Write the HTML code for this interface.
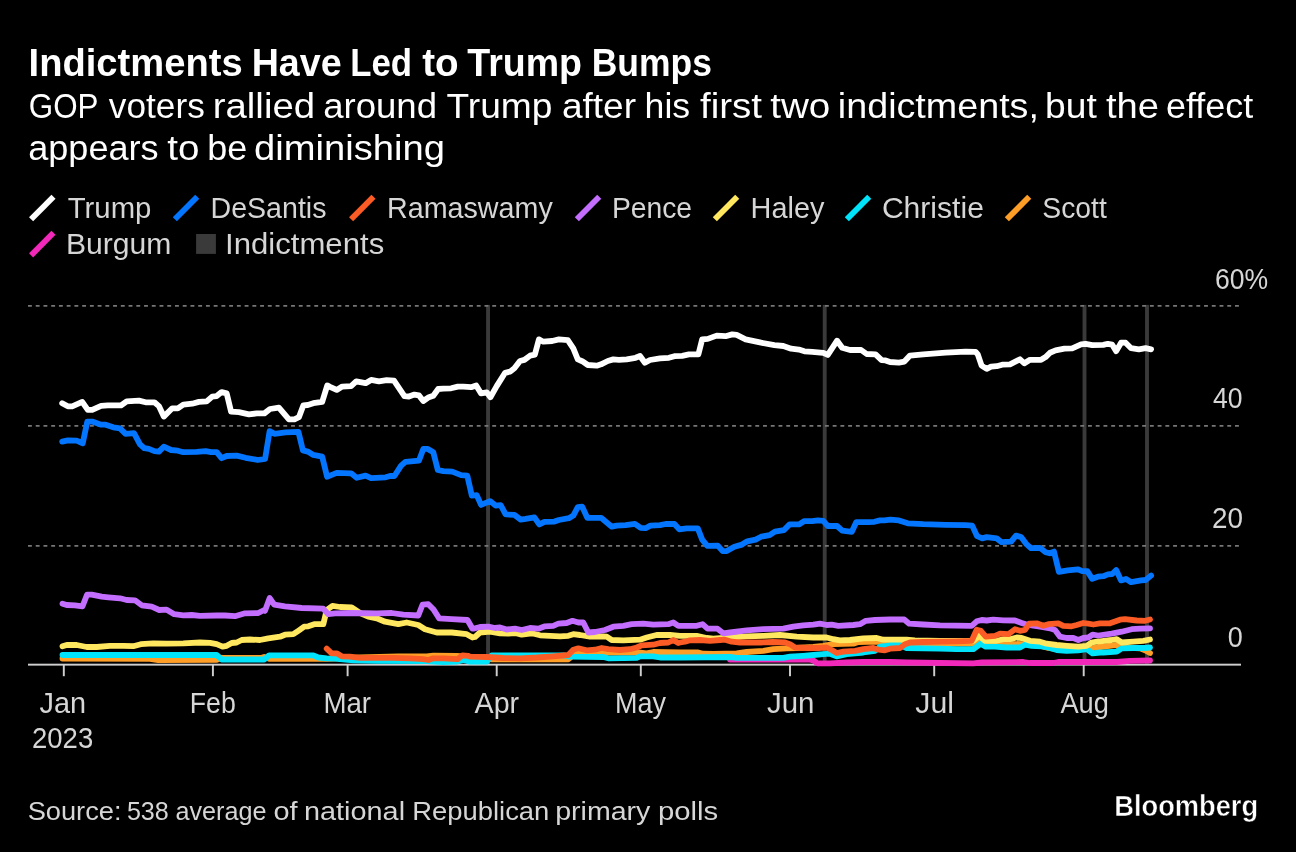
<!DOCTYPE html>
<html lang="en"><head><meta charset="utf-8"><title>Indictments Have Led to Trump Bumps</title>
<style>html,body{margin:0;padding:0;background:#000;}body{width:1296px;height:852px;overflow:hidden;}svg{display:block;will-change:transform;}text{font-family:"Liberation Sans",sans-serif;}</style></head><body>
<svg width="1296" height="852" viewBox="0 0 1296 852">
<rect width="1296" height="852" fill="#000"/>
<rect x="486.12" y="304.9" width="3.87" height="360" fill="#3a3a3a"/>
<rect x="822.77" y="304.9" width="3.87" height="360" fill="#3a3a3a"/>
<rect x="1082.57" y="304.9" width="3.87" height="360" fill="#3a3a3a"/>
<rect x="1145.07" y="304.9" width="3.87" height="360" fill="#3a3a3a"/>
<line x1="28" x2="1240" y1="305.9" y2="305.9" stroke="#767676" stroke-width="1.93" stroke-dasharray="3.8687 3.8686"/>
<line x1="28" x2="1240" y1="425.9" y2="425.9" stroke="#767676" stroke-width="1.93" stroke-dasharray="3.8687 3.8686"/>
<line x1="28" x2="1240" y1="545.9" y2="545.9" stroke="#767676" stroke-width="1.93" stroke-dasharray="3.8687 3.8686"/>
<rect x="28" y="663.7" width="1213" height="1.93" fill="#cfcfcf"/>
<rect x="62.84" y="664" width="1.93" height="12.2" fill="#cfcfcf"/>
<rect x="211.94" y="664" width="1.93" height="12.2" fill="#cfcfcf"/>
<rect x="346.64" y="664" width="1.93" height="12.2" fill="#cfcfcf"/>
<rect x="495.74" y="664" width="1.93" height="12.2" fill="#cfcfcf"/>
<rect x="639.84" y="664" width="1.93" height="12.2" fill="#cfcfcf"/>
<rect x="789.04" y="664" width="1.93" height="12.2" fill="#cfcfcf"/>
<rect x="933.24" y="664" width="1.93" height="12.2" fill="#cfcfcf"/>
<rect x="1082.74" y="664" width="1.93" height="12.2" fill="#cfcfcf"/>
<path d="M730,659.5 L763.3,659.7 L810,659.7 L813.3,660.5 L817.5,663.3 L830,663.3 L846.7,662.5 L863.3,662 L890,662 L906.7,662.5 L973.3,663.3 L981.7,662.5 L1023.3,662 L1030,663 L1053.3,663 L1058.3,662 L1098.3,662 L1100,662 L1116.7,662 L1130,660.8 L1150,660.5" fill="none" stroke="#f128b9" stroke-width="5.8" stroke-linejoin="round" stroke-linecap="round"/>
<path d="M62.5,658.5 L150,658.8 L158.3,660.2 L216.7,659.8 L221.7,657.8 L261.7,657.8 L264.2,657 L269.2,658.8 L315,658.8 L326.7,658.8 L340,658.3 L360,657.5 L398.3,656.5 L426.7,656.3 L433.3,655.7 L456.7,656 L470,657 L486.7,658.3 L491.7,659.3 L568.3,659.3 L576.7,652.5 L636.7,652.5 L638.3,652.5 L646.7,653.3 L653.3,652 L680,652.5 L698.3,652.5 L703.3,653.7 L713.3,654 L736.7,653.3 L746.7,652 L763.3,650.8 L773.3,649.2 L786.7,648.3 L796.7,648 L813.3,647 L823.3,645.8 L833.3,644.2 L853.3,643.7 L858.3,642 L876.7,641.7 L890,642.5 L906.7,643.3 L973.3,643.7 L980.8,640 L985.8,643.3 L1023.3,644.2 L1040,645.8 L1048.3,648 L1056.7,649.2 L1078.3,649.2 L1091.7,648.3 L1098.3,647 L1100,647 L1113.3,645.3 L1116.7,645 L1120,647.3 L1140,648.3 L1145,650.3 L1150,653" fill="none" stroke="#ff9e26" stroke-width="5.8" stroke-linejoin="round" stroke-linecap="round"/>
<path d="M62.5,655 L216.7,655 L221.7,659.5 L261.7,659.5 L264.2,659.5 L269.2,655.3 L313.3,655.3 L318.3,657.5 L326.7,658.3 L335,658.7 L340,659.2 L353.3,660.3 L376.7,660.8 L426.7,661.2 L435,661.7 L443.3,662 L456.7,661.7 L463.3,660 L470,661.7 L486.7,661.7 L491.7,655.3 L563.3,655.3 L570,656.7 L603.3,657 L608.3,658.3 L636.7,657.8 L640,656.3 L653.3,656.3 L660,657.5 L680,657.5 L730,657 L736.7,657.8 L746.7,657.8 L783.3,657.8 L790,656.7 L803.3,655.8 L813.3,655 L823.3,654.2 L830,653.7 L836.7,656.3 L846.7,654.2 L863.3,652.5 L875,650.8 L880,646.7 L886.7,645.8 L890,645 L900,645 L906.7,648 L923.3,648.3 L940,648.7 L956.7,649.2 L973.3,649.2 L980.8,643.7 L985.8,646.7 L995,646.7 L1006.7,647.5 L1020,647.5 L1025,644.7 L1031.7,645.8 L1041.7,646.3 L1048.3,647.5 L1056.7,650 L1066.7,650.8 L1078.3,650.3 L1086.7,649.2 L1092.5,653.3 L1100,652.5 L1103.3,652.5 L1116.7,651.7 L1121.7,648.3 L1133.3,648 L1145,648 L1150,647.5" fill="none" stroke="#00e4fb" stroke-width="5.8" stroke-linejoin="round" stroke-linecap="round"/>
<path d="M62.5,646.3 L66.7,645 L76.7,645 L86.7,647 L96.7,647 L110,645.8 L123.3,645.8 L133.3,646.2 L140.8,644.2 L153.3,643.3 L166.7,643.7 L183.3,643.3 L200,642.5 L210,642.8 L216.7,644.2 L222.5,646.7 L226.7,645.8 L231.7,643 L236.7,642.5 L241.7,640 L250,639.5 L260,640 L268.3,638.3 L280,636.7 L285,634.7 L293.3,634.2 L298.3,630.8 L304.2,626.7 L308.3,626.3 L314.2,624.2 L323.3,624.2 L326.7,610 L332.5,605.8 L340,607 L351.7,607.5 L360,613 L368.3,616.7 L376.7,618.3 L385,621.7 L398.3,624.2 L406.7,622.5 L418.3,625 L425,629.2 L436.7,632.5 L451.7,632.5 L466.7,634.2 L472.5,637.5 L475,637 L480,632.5 L490,631.7 L500,633.3 L508.3,633.7 L515,633 L521.7,634.7 L531.7,633.3 L540,635.3 L550,635.8 L560,636.3 L568.3,635.8 L573.3,634.2 L580,635 L590,636.7 L603.3,636.3 L606.7,636.7 L611.7,640 L623.3,640.3 L640,639.7 L646.7,637.5 L656.7,635 L670,635 L680,635.8 L696.7,635.8 L706.7,638 L713.3,638.7 L730,637.5 L746.7,636.3 L763.3,635.8 L780,635 L796.7,636.7 L813.3,637.5 L826.7,637.5 L833.3,639.2 L840,640.3 L850,640 L863.3,638.3 L876.7,638 L883.3,639.7 L890,639.7 L906.7,639.7 L915,640.3 L940,640.8 L973.3,640.8 L979.2,635.8 L985,640.8 L996.7,640.8 L1003.3,639.2 L1010,639.2 L1016.7,637.5 L1021.7,638 L1030,640.8 L1040,641.7 L1046.7,643.7 L1056.7,645 L1066.7,645.8 L1078.3,646.7 L1086.7,645.8 L1091.7,642.5 L1098.3,641.3 L1100,641.3 L1111.7,640 L1116.7,639.2 L1121.7,642.5 L1133.3,641.7 L1143.3,640.8 L1150,639.5" fill="none" stroke="#ffe75f" stroke-width="5.8" stroke-linejoin="round" stroke-linecap="round"/>
<path d="M62.5,603.7 L66.7,605 L75,605.3 L82.5,606.3 L87,594.7 L91.7,594.7 L101.7,596.7 L108.3,597.3 L120,598.3 L126.7,600 L135,600.3 L141.7,605.3 L151.7,606.7 L159.2,610 L166.7,609.7 L174.2,614.2 L183.3,615.3 L191.7,615 L200,615.8 L216.7,615.5 L225,615.5 L235,616.2 L245,613.3 L258.3,613 L264.2,610 L265,610.8 L269.7,598 L274.2,604.7 L285,606.3 L301.7,608 L323.3,608.7 L328.3,614.2 L335,613.3 L351.7,613 L376.7,613.3 L391.7,613 L403.3,614.7 L418.3,615.5 L422.5,604.7 L428.3,604.2 L433.3,609.2 L439.2,618.3 L451.7,619.2 L467.5,620 L472.5,628.7 L473.3,628.7 L480,627 L488.3,626.7 L495,628 L500,627.5 L506.7,629.5 L515,628.7 L521.7,630 L530,628 L538.3,628.7 L545,626.3 L553.3,625.8 L558.3,623.7 L566.7,623 L572.5,620.8 L578.3,622.5 L583.3,622.5 L588.3,632.5 L595,632 L605,630 L613.3,626.7 L623.3,625.8 L631.7,624.2 L643.3,623.7 L653.3,624.7 L668.3,624.2 L673.3,622.5 L678.3,625.8 L680,625.8 L696.7,625.8 L702.5,624.2 L707.5,628.7 L717.5,628.7 L723.3,633.3 L730,632.5 L746.7,630.3 L763.3,629.2 L783.3,628.7 L793.3,626.7 L803.3,625.3 L813.3,624.7 L820,623.7 L826.7,625 L831.7,624.7 L838.3,625.8 L853.3,625 L860,624.2 L865.8,620.8 L875,620 L890,619.5 L904.2,619.5 L909.2,623.7 L923.3,624.5 L940,625.3 L971.7,625.8 L976.7,621.3 L981.7,620 L986.7,620.5 L993.3,619.7 L1003.3,620.3 L1015,620.5 L1021.7,623 L1028.3,625 L1040,626.7 L1050,628.3 L1055,630 L1060,636.7 L1066.7,638 L1073.3,638 L1078.3,640 L1083.3,638 L1088.3,637.5 L1092.5,634.7 L1098.3,635.5 L1111.7,633.7 L1121.7,631.7 L1131.7,629.2 L1140,628.7 L1150,628.3" fill="none" stroke="#c46eff" stroke-width="5.8" stroke-linejoin="round" stroke-linecap="round"/>
<path d="M326.7,648.7 L331.7,653.3 L336.7,653.3 L341.7,656.3 L350,656.7 L360,657.8 L376.7,657.8 L393.3,657.8 L410,658.3 L423.3,659.2 L428.3,660 L433.3,658.3 L443.3,658.3 L457.5,659.2 L462.5,655.3 L468.3,655.8 L470,656.7 L486.7,657 L503.3,658 L520,658.3 L536.7,657.5 L553.3,656.3 L568.3,655 L573.3,649.7 L578.3,648.3 L586.7,650.3 L595,649.7 L601.7,648 L608.3,649.2 L620,650 L630,649.2 L636.7,647.5 L641.7,645.3 L653.3,644.7 L660,643 L668.3,642.5 L673.3,640 L678.3,643 L680,642.5 L685,641.7 L690,640.3 L700,640 L710,640.8 L720,640 L725,639.7 L731.7,641.7 L740,642.5 L760,642.5 L773.3,642 L785,642.5 L790,644.2 L795,647.5 L806.7,648 L818.3,648 L826.7,647.5 L831.7,650 L836.7,653 L843.3,651.7 L855,650.8 L863.3,649.2 L873.3,648 L878.3,649.7 L885,650.3 L890,648.7 L900,648 L905,644.2 L910,642.5 L923.3,642 L940,641.7 L956.7,641.3 L971.7,640.8 L976.7,629.7 L980.8,630.8 L985.8,636.7 L995,635.8 L1000,633.7 L1008.3,634.2 L1015,629.2 L1020,630.8 L1025,630 L1029.2,623.7 L1036.7,623.3 L1043.3,625.8 L1048.3,624.2 L1058.3,623.3 L1063.3,625.8 L1071.7,626.3 L1076.7,625 L1083.3,623 L1088.3,623.7 L1093.3,624.5 L1100,623.3 L1110,623.3 L1120,619.7 L1125,619.2 L1136.7,620.5 L1145,620.8 L1150,619.5" fill="none" stroke="#fb5b24" stroke-width="5.8" stroke-linejoin="round" stroke-linecap="round"/>
<path d="M62.2,441.6 L67.8,440.4 L76.7,440.7 L82.7,443.3 L87.3,421.6 L92.2,421.6 L101.1,424.7 L105.6,424.7 L113.3,427.3 L120,428.4 L125.6,433.8 L134,433.1 L140,444.4 L144.4,448.2 L148.9,448.9 L154.4,451.1 L158.9,451.6 L163.8,446.7 L171.1,450 L177.8,450.7 L183.3,452.2 L196.7,451.8 L205.6,451.1 L211.1,452.2 L216.7,452.2 L221.6,458.2 L226.7,456 L236.7,455.6 L245.6,457.8 L257.8,460 L265.1,458.9 L269.6,431.1 L274.4,433.8 L285.6,432.4 L298.4,431.8 L302.9,450.4 L307.8,451.6 L313.3,454.9 L322.2,456.7 L327.1,476.7 L330,475.6 L336.7,472.9 L351.1,473.3 L356.7,477.8 L365.6,475.6 L371.1,478.2 L385.6,477.3 L390,476 L394.4,476 L401.1,465.6 L405.6,461.8 L418.9,460.7 L423.3,448.9 L427.8,448.9 L433.3,452.2 L437.8,470 L443.3,471.1 L452.2,471.6 L461.1,475.1 L467.3,475.6 L471.8,495.6 L476.7,495.1 L481.1,504.9 L490,501.1 L495.6,505.6 L500.7,505.1 L505.6,514.4 L514.4,514.9 L520.7,519.6 L525.6,518.9 L534.4,517.3 L539.3,524.4 L544.4,521.8 L554.4,521.6 L558.9,520 L568.9,518.2 L573.3,515.6 L577.8,507.1 L582.2,506.7 L587.3,517.8 L601.1,517.8 L611.8,526.7 L616.7,525.6 L625.6,525.1 L634.9,523.8 L640.7,527.8 L645.6,528.2 L650.4,525.6 L660,525.1 L665.6,524 L674.4,524 L679.3,529.3 L686.7,528.4 L697.8,528.4 L702.2,539.6 L707.3,545.8 L717.8,545.6 L722.7,551.1 L726.7,551.1 L734.4,546.7 L741.1,544.9 L747.3,541.3 L755.6,539.6 L761.1,536.7 L769.6,535.1 L774.9,531.6 L783.8,530.2 L789.6,524.4 L798.9,524.4 L804.4,521.1 L812.2,521.1 L817.8,520.4 L823.3,520.9 L827.8,526 L837.1,526 L842.2,530.7 L851.8,531.8 L856.2,522.2 L867.8,522.2 L874.4,521.8 L880,520.4 L884.4,520.4 L890.4,519.6 L898.9,520.4 L907.8,523.3 L923.3,524.2 L945.6,524.9 L965.6,525.1 L972.2,525.6 L977.1,536.2 L982.2,538.4 L986.7,537.1 L996.7,538.4 L1001.6,542.2 L1011.1,541.6 L1016,535.6 L1021.1,537.1 L1026.7,544.4 L1031.1,548.2 L1040,547.8 L1045.6,552.2 L1049.6,553.3 L1054,551.6 L1058.9,571.8 L1067.8,570.4 L1077.8,569.3 L1082.2,571.1 L1087.3,571.1 L1092.2,578.9 L1097.8,576.7 L1103.3,576.2 L1107.8,574.4 L1112.2,574 L1116.2,570 L1121.1,580.4 L1126,578.9 L1131.1,582.2 L1141.1,580.4 L1145.6,580 L1151.1,575.6" fill="none" stroke="#0475ff" stroke-width="5.8" stroke-linejoin="round" stroke-linecap="round"/>
<path d="M62.2,403.2 L67.8,406.3 L72.2,406.3 L82.2,401.9 L87.8,409.9 L92.2,409.9 L101.1,405.9 L107.8,405.4 L121.1,405.4 L126.7,401.4 L138.9,400.6 L145.6,402.3 L154.4,402.3 L158.9,406.1 L163.8,416.6 L172.2,408.3 L177.8,408.3 L183.3,404.6 L192.2,403.7 L198.9,401.9 L206.7,401.4 L212.2,396.6 L216.7,396.1 L221.6,392.1 L226.7,393.4 L231.1,411.7 L238.9,412.1 L248.9,414.3 L256.7,413.4 L264.4,413.4 L270,409 L278.9,407.7 L288.9,419.4 L294.4,419.4 L298.9,417.2 L303.3,405.4 L307.8,405 L313.3,403.2 L322.2,401.9 L327.3,385.4 L330,386.8 L336.7,389.9 L342.2,386.6 L351.1,386.1 L356.2,381.4 L365.6,383.2 L371.1,379.9 L378.9,381.4 L386.7,380.1 L394,380.6 L404.4,396.1 L408.9,396.6 L414.4,394.6 L418.9,395.4 L423.3,401 L428.9,397.2 L433.3,395.7 L438.2,389 L443.3,388.6 L451.1,388.3 L457.8,386.6 L463.3,386.6 L471.1,387.2 L476.2,385.4 L481.1,393.4 L486.7,392.3 L490.4,397.2 L496.7,386.1 L505.1,372.8 L510,371.7 L514.4,368.3 L520,361 L524.4,359.9 L530,355.7 L534.9,354.6 L538.9,339.4 L543.3,341.7 L552.2,341 L558.9,339.4 L567.8,340.1 L573.3,348.3 L577.8,359.4 L582.2,361.2 L587.8,365 L596.7,365.7 L601.1,364.3 L607.8,361 L613.3,359.4 L618.9,359.8 L626.7,359.3 L635.6,357.8 L640,356 L644.9,362.7 L650,360 L660,358.4 L668.9,357.8 L674.4,356.2 L682.2,355.8 L688.9,354.4 L698.4,354.4 L702.2,339.3 L707.8,338.9 L716.7,335.6 L725.6,336.2 L732.2,334.4 L736.7,334.9 L745.6,339.3 L761.1,342.7 L774.4,345.1 L783.3,346 L791.1,348.7 L798.9,349.6 L804.4,351.3 L812.2,351.8 L823.3,352.9 L827.8,354.9 L837.1,340.7 L842.2,347.8 L850,350 L861.1,350 L866.7,354 L875.6,354.4 L881.6,360.2 L885.6,360.4 L890,362 L898.9,362.7 L904.4,361.6 L910,355.6 L923.3,354.4 L945.6,352.7 L965.6,351.6 L975.6,351.8 L977.8,354.4 L981.6,365.6 L986.7,368.9 L991.1,366.7 L996.7,366.2 L1002.2,364.7 L1010,364.4 L1020,359.3 L1024.4,363.3 L1030,359.8 L1041.1,359.8 L1045.6,357.1 L1050,352.7 L1055.6,350.4 L1064.4,348.7 L1072.2,348.4 L1081.1,344.4 L1085.6,343.8 L1092.2,345.1 L1103.3,344.9 L1107.8,343.8 L1112.2,344.7 L1116.2,351.1 L1121.1,342.7 L1125.6,342.7 L1131.1,348.2 L1138.9,349.3 L1145.6,348.2 L1151.1,349.3" fill="none" stroke="#ffffff" stroke-width="5.8" stroke-linejoin="round" stroke-linecap="round"/>
<line x1="31.10" y1="219.30" x2="53.50" y2="196.70" stroke="#ffffff" stroke-width="5.8"/>
<line x1="174.85" y1="219.30" x2="197.25" y2="196.70" stroke="#0475ff" stroke-width="5.8"/>
<line x1="351.10" y1="219.30" x2="373.50" y2="196.70" stroke="#fb5b24" stroke-width="5.8"/>
<line x1="576.85" y1="219.30" x2="599.25" y2="196.70" stroke="#c46eff" stroke-width="5.8"/>
<line x1="714.85" y1="219.30" x2="737.25" y2="196.70" stroke="#ffe75f" stroke-width="5.8"/>
<line x1="846.85" y1="219.30" x2="869.25" y2="196.70" stroke="#00e4fb" stroke-width="5.8"/>
<line x1="1006.85" y1="219.30" x2="1029.25" y2="196.70" stroke="#ff9e26" stroke-width="5.8"/>
<line x1="31.10" y1="255.35" x2="53.50" y2="232.75" stroke="#f128b9" stroke-width="5.8"/>
<rect x="196.1" y="234" width="19.8" height="19.9" fill="#3a3a3a"/>
<text y="76.10" font-size="38.7" font-weight="bold" fill="#ffffff"><tspan x="28.57" textLength="214.03" lengthAdjust="spacingAndGlyphs">Indictments</tspan> <tspan x="251.63" textLength="90.00" lengthAdjust="spacingAndGlyphs">Have</tspan> <tspan x="350.22" textLength="61.77" lengthAdjust="spacingAndGlyphs">Led</tspan> <tspan x="422.19" textLength="36.40" lengthAdjust="spacingAndGlyphs">to</tspan> <tspan x="467.28" textLength="114.78" lengthAdjust="spacingAndGlyphs">Trump</tspan> <tspan x="591.67" textLength="120.20" lengthAdjust="spacingAndGlyphs">Bumps</tspan></text>
<text y="118.30" font-size="35.3" fill="#ffffff"><tspan x="28.77" textLength="69.13" lengthAdjust="spacingAndGlyphs">GOP</tspan> <tspan x="108.87" textLength="95.94" lengthAdjust="spacingAndGlyphs">voters</tspan> <tspan x="212.77" textLength="102.29" lengthAdjust="spacingAndGlyphs">rallied</tspan> <tspan x="323.19" textLength="113.87" lengthAdjust="spacingAndGlyphs">around</tspan> <tspan x="446.51" textLength="105.85" lengthAdjust="spacingAndGlyphs">Trump</tspan> <tspan x="561.93" textLength="74.15" lengthAdjust="spacingAndGlyphs">after</tspan> <tspan x="644.59" textLength="45.55" lengthAdjust="spacingAndGlyphs">his</tspan> <tspan x="699.97" textLength="62.02" lengthAdjust="spacingAndGlyphs">first</tspan> <tspan x="770.17" textLength="60.15" lengthAdjust="spacingAndGlyphs">two</tspan> <tspan x="837.88" textLength="201.05" lengthAdjust="spacingAndGlyphs">indictments,</tspan> <tspan x="1045.11" textLength="51.65" lengthAdjust="spacingAndGlyphs">but</tspan> <tspan x="1105.98" textLength="53.00" lengthAdjust="spacingAndGlyphs">the</tspan> <tspan x="1165.98" textLength="87.14" lengthAdjust="spacingAndGlyphs">effect</tspan></text>
<text y="159.95" font-size="35.3" fill="#ffffff"><tspan x="28.21" textLength="130.47" lengthAdjust="spacingAndGlyphs">appears</tspan> <tspan x="167.22" textLength="32.18" lengthAdjust="spacingAndGlyphs">to</tspan> <tspan x="207.17" textLength="40.00" lengthAdjust="spacingAndGlyphs">be</tspan> <tspan x="254.06" textLength="190.85" lengthAdjust="spacingAndGlyphs">diminishing</tspan></text>
<text y="218.00" font-size="29.4" fill="#d6d6d6"><tspan x="67.77" textLength="83.63" lengthAdjust="spacingAndGlyphs">Trump</tspan> <tspan x="210.55" textLength="115.93" lengthAdjust="spacingAndGlyphs">DeSantis</tspan> <tspan x="387.01" textLength="165.73" lengthAdjust="spacingAndGlyphs">Ramaswamy</tspan> <tspan x="611.89" textLength="80.23" lengthAdjust="spacingAndGlyphs">Pence</tspan> <tspan x="750.57" textLength="73.85" lengthAdjust="spacingAndGlyphs">Haley</tspan> <tspan x="881.90" textLength="101.99" lengthAdjust="spacingAndGlyphs">Christie</tspan> <tspan x="1042.36" textLength="64.41" lengthAdjust="spacingAndGlyphs">Scott</tspan></text>
<text y="253.90" font-size="29.4" fill="#d6d6d6"><tspan x="65.93" textLength="105.52" lengthAdjust="spacingAndGlyphs">Burgum</tspan> <tspan x="225.00" textLength="159.22" lengthAdjust="spacingAndGlyphs">Indictments</tspan></text>
<text y="288.80" font-size="28.8" fill="#d6d6d6"><tspan x="1215.05" textLength="53.19" lengthAdjust="spacingAndGlyphs">60%</tspan></text>
<text y="407.90" font-size="28.8" fill="#d6d6d6"><tspan x="1213.07" textLength="29.54" lengthAdjust="spacingAndGlyphs">40</tspan></text>
<text y="527.90" font-size="28.8" fill="#d6d6d6"><tspan x="1212.05" textLength="30.97" lengthAdjust="spacingAndGlyphs">20</tspan></text>
<text y="646.70" font-size="28.8" fill="#d6d6d6"><tspan x="1227.84" textLength="15.01" lengthAdjust="spacingAndGlyphs">0</tspan></text>
<text y="712.90" font-size="29.4" fill="#d6d6d6"><tspan x="39.52" textLength="46.58" lengthAdjust="spacingAndGlyphs">Jan</tspan> <tspan x="189.74" textLength="46.02" lengthAdjust="spacingAndGlyphs">Feb</tspan> <tspan x="323.39" textLength="47.71" lengthAdjust="spacingAndGlyphs">Mar</tspan> <tspan x="474.59" textLength="44.54" lengthAdjust="spacingAndGlyphs">Apr</tspan> <tspan x="615.05" textLength="50.91" lengthAdjust="spacingAndGlyphs">May</tspan> <tspan x="766.95" textLength="47.47" lengthAdjust="spacingAndGlyphs">Jun</tspan> <tspan x="915.33" textLength="38.76" lengthAdjust="spacingAndGlyphs">Jul</tspan> <tspan x="1060.46" textLength="48.46" lengthAdjust="spacingAndGlyphs">Aug</tspan></text>
<text y="747.90" font-size="28.8" fill="#d6d6d6"><tspan x="32.02" textLength="61.18" lengthAdjust="spacingAndGlyphs">2023</tspan></text>
<text y="819.50" font-size="26.1" fill="#d6d6d6"><tspan x="27.68" textLength="93.85" lengthAdjust="spacingAndGlyphs">Source:</tspan> <tspan x="126.88" textLength="41.93" lengthAdjust="spacingAndGlyphs">538</tspan> <tspan x="175.44" textLength="90.98" lengthAdjust="spacingAndGlyphs">average</tspan> <tspan x="273.43" textLength="24.11" lengthAdjust="spacingAndGlyphs">of</tspan> <tspan x="304.00" textLength="101.04" lengthAdjust="spacingAndGlyphs">national</tspan> <tspan x="412.27" textLength="137.05" lengthAdjust="spacingAndGlyphs">Republican</tspan> <tspan x="555.21" textLength="95.19" lengthAdjust="spacingAndGlyphs">primary</tspan> <tspan x="658.00" textLength="60.23" lengthAdjust="spacingAndGlyphs">polls</tspan></text>
<text y="815.60" font-size="29.6" font-weight="bold" fill="#ffffff" stroke="#000" stroke-width="0.5"><tspan x="1114.21" textLength="143.93" lengthAdjust="spacingAndGlyphs">Bloomberg</tspan></text>
</svg></body></html>
